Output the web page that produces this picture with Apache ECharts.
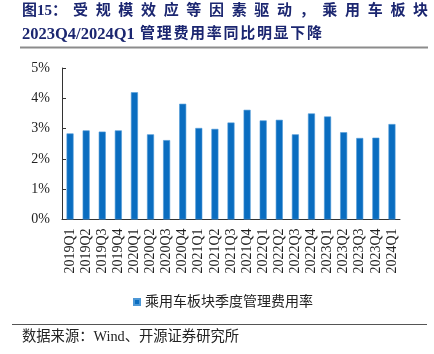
<!DOCTYPE html>
<html><head><meta charset="utf-8">
<script src="https://cdn.jsdelivr.net/npm/echarts@6/dist/echarts.min.js"></script>
<style>html,body{margin:0;padding:0;background:#fff}#c{width:434px;height:354px}</style>
</head><body><div id="c"></div>
<script>
var categories = ['2019Q1','2019Q2','2019Q3','2019Q4','2020Q1','2020Q2','2020Q3','2020Q4','2021Q1','2021Q2','2021Q3','2021Q4','2022Q1','2022Q2','2022Q3','2022Q4','2023Q1','2023Q2','2023Q3','2023Q4','2024Q1'];
var seriesName = '乘用车板块季度管理费用率';
var values = [2.84,2.94,2.90,2.94,4.20,2.81,2.62,3.82,3.02,2.99,3.20,3.62,3.27,3.29,2.81,3.50,3.40,2.88,2.69,2.70,3.15];
var yTicks = [0,1,2,3,4,5];
var titleHead = '图15：';
var titleLine1 = '受规模效应等因素驱动，乘用车板块';
var titleLine2Head = '2023Q4/2024Q1';
var titleLine2 = '管理费用率同比明显下降';
var sourceText = '数据来源：Wind、开源证券研究所';

var serif = '"Liberation Serif","Noto Sans CJK SC",serif';
var navy = '#1b2670';
var graphics = [];
graphics.push({type:'text', left:22, top:4, style:{text:titleHead, font:'bold 15px '+serif, fill:navy}});
var chars = titleLine1.split('');
for (var i=0;i<chars.length;i++){
  graphics.push({type:'text', x:73 + i*22.67, y:4, style:{text:chars[i], font:'bold 15px '+serif, fill:navy}});
}
graphics.push({type:'text', left:22, top:26, style:{text:titleLine2Head, font:'bold 16.5px '+serif, fill:navy}});
var chars2 = titleLine2.split('');
for (var j=0;j<chars2.length;j++){
  graphics.push({type:'text', x:140 + j*16.7, y:27, style:{text:chars2[j], font:'bold 15px '+serif, fill:navy}});
}
graphics.push({type:'line', shape:{x1:20,y1:47.5,x2:428,y2:47.5}, style:{stroke:'#8c8c8c', lineWidth:2}});
graphics.push({type:'line', shape:{x1:12,y1:324.5,x2:427,y2:324.5}, style:{stroke:'#555', lineWidth:1}});
graphics.push({type:'text', left:22, top:330, style:{text:sourceText, font:'14.3px '+serif, fill:'#222'}});

var chart = echarts.init(document.getElementById('c'), null, {renderer:'canvas'});
chart.setOption({
  animation:false,
  grid:{left:62, right:34, top:68, bottom:134.5, containLabel:false},
  legend:{data:[seriesName], left:128, top:290, icon:'rect', itemWidth:6, itemHeight:6, itemGap:4,
    textStyle:{fontFamily:serif, fontSize:14, color:'#222'}},
  xAxis:{type:'category', data:categories, boundaryGap:true,
    axisLine:{lineStyle:{color:'#333', width:1}},
    axisTick:{inside:true, length:4, lineStyle:{color:'#333'}},
    axisLabel:{rotate:90, margin:9, fontFamily:serif, fontSize:14, color:'#222', interval:0}},
  yAxis:{type:'value', min:yTicks[0], max:yTicks[yTicks.length-1], interval:1,
    axisLine:{show:true, lineStyle:{color:'#333', width:1}},
    axisTick:{show:true, inside:true, length:4, lineStyle:{color:'#333'}},
    splitLine:{show:false},
    axisLabel:{formatter:'{value}%', margin:12, fontFamily:serif, fontSize:14, color:'#222'}},
  series:[{name:seriesName, type:'bar', data:values, barWidth:7,
    itemStyle:{color:'#0a6dc0', borderColor:'#4d98d6', borderWidth:0.6}}],
  graphic:graphics
});
</script></body></html>
